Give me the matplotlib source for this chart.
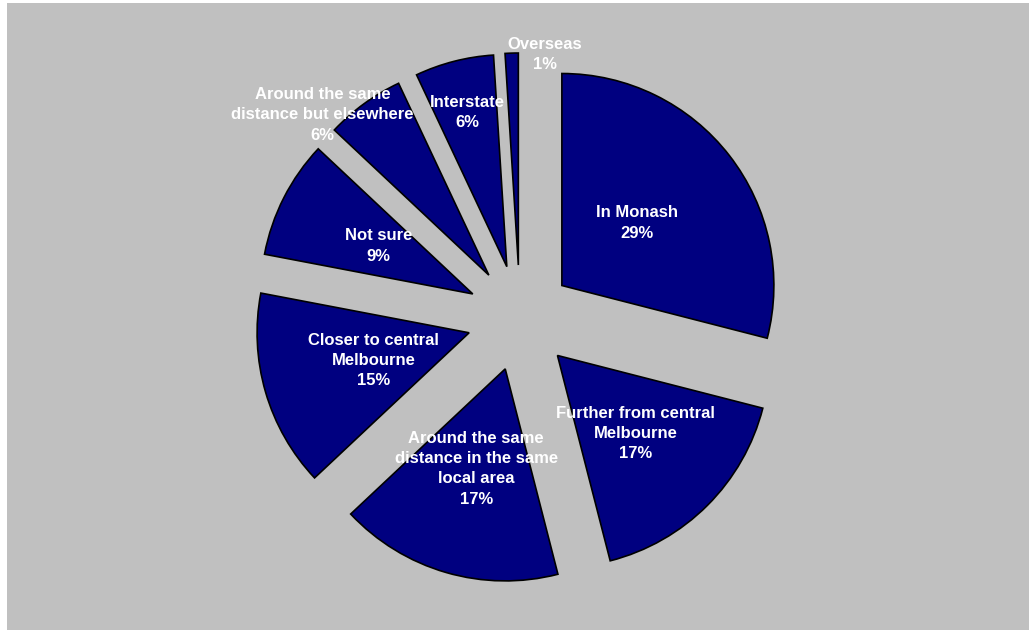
import matplotlib.pyplot as plt
from matplotlib.patches import Rectangle
import numpy as np

labels = ['In Monash', 'Further from central\nMelbourne',
          'Around the same\ndistance in the same\nlocal area',
          'Closer to central\nMelbourne', 'Not sure',
          'Around the same\ndistance but elsewhere',
          'Interstate', 'Overseas']
shares = [29, 17, 17, 15, 9, 6, 6, 1]

# label placement: radial distance (fraction of radius) and angle tweak in degrees
label_dist = [0.46, 0.52, 0.49, 0.47, 0.50, 1.09, 0.75, 1.0]
label_turn = [2, 0, 0, 0, 0, 10, 0, -9]

W, H = 1029, 631
fig = plt.figure(figsize=(W / 100, H / 100), dpi=100)
fig.patch.set_facecolor('white')
ax = fig.add_axes([0, 0, 1, 1])

# grey chart area
ax.add_patch(Rectangle((7, 1), W - 7, 627, facecolor='#C0C0C0', edgecolor='none', zorder=0))

R = 212
wedges, _ = ax.pie(shares, center=(520, 313), radius=R, startangle=90, counterclock=False,
                   explode=[53] * len(shares), labels=None,
                   colors=['#000080'] * len(shares),
                   wedgeprops=dict(edgecolor='black', linewidth=1.2), frame=True)
ax.set_xlim(0, W)
ax.set_ylim(0, H)
ax.set_aspect('equal')
ax.axis('off')

for w, lab, val, d, t in zip(wedges, labels, shares, label_dist, label_turn):
    ang = np.deg2rad((w.theta1 + w.theta2) / 2 + t)
    cx, cy = w.center
    x = cx + d * R * np.cos(ang)
    y = cy + d * R * np.sin(ang)
    ax.text(x, y, f'{lab}\n{val}%', ha='center', va='center', color='white',
            fontsize=12, fontweight='bold', family='Liberation Sans',
            linespacing=1.45, zorder=5)

fig.savefig('out.png', dpi=100, facecolor='white')
